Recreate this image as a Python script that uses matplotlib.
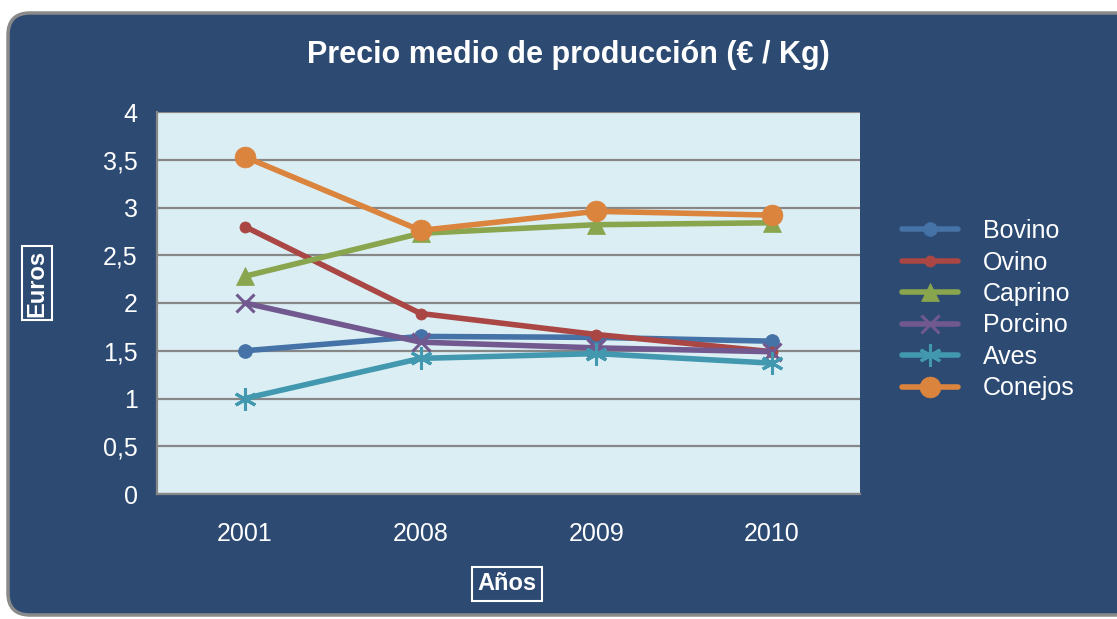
import matplotlib
matplotlib.use("Agg")
import matplotlib.pyplot as plt
from matplotlib.patches import FancyBboxPatch

years = ["2001", "2008", "2009", "2010"]
series_names = ["Bovino", "Ovino", "Caprino", "Porcino", "Aves", "Conejos"]
bovino = [1.50, 1.65, 1.64, 1.60]
ovino = [2.80, 1.89, 1.67, 1.49]
caprino = [2.28, 2.73, 2.82, 2.84]
porcino = [2.00, 1.59, 1.53, 1.49]
aves = [1.00, 1.42, 1.47, 1.37]
conejos = [3.53, 2.76, 2.96, 2.92]
yticks = [0, 0.5, 1, 1.5, 2, 2.5, 3, 3.5, 4]
ytick_labels = ["0", "0,5", "1", "1,5", "2", "2,5", "3", "3,5", "4"]

values = [bovino, ovino, caprino, porcino, aves, conejos]
colors = ["#4572a7", "#aa4643", "#89a54e", "#71588f", "#4198af", "#db843d"]
markers = ["o", "o", "^", "x", (6, 2, 0), "o"]
msizes = [10, 8, 13, 13, 16, 15]

plt.rcParams['font.family'] = ['Liberation Sans', 'DejaVu Sans']

fig = plt.figure(figsize=(11.17, 6.19), dpi=100)
fig.patch.set_facecolor("white")
bg = FancyBboxPatch((0.08, 0.04), 11.4, 6.02, boxstyle="round,pad=0,rounding_size=0.22",
                    transform=fig.dpi_scale_trans, facecolor="#2c4a72",
                    edgecolor="#8a8a8a", linewidth=2.5, zorder=-10)
fig.patches.append(bg)

ax = fig.add_axes([157/1117, 1-494/619, (860-157)/1117, (494-112)/619])
ax.set_facecolor("#dbeef4")
x = list(range(len(years)))
for name, vals, c, m, ms in zip(series_names, values, colors, markers, msizes):
    ax.plot(x, vals, color=c, linewidth=4, marker=m, markersize=ms,
            markeredgewidth=2.2 if m in ("x", (6, 2, 0)) else 0.5,
            markeredgecolor=c, markerfacecolor=c, label=name, solid_capstyle="round")

ax.set_xlim(-0.5, 3.5)
ax.set_ylim(0, 4)
ax.set_yticks(yticks)
ax.set_yticklabels(ytick_labels)
ax.set_xticks(x)
ax.set_xticklabels(years)
ax.grid(axis="y", color="#878787", linewidth=1.6)
ax.set_axisbelow(True)
for s in ["top", "right"]:
    ax.spines[s].set_visible(False)
for s in ["left", "bottom"]:
    ax.spines[s].set_color("#878787")
    ax.spines[s].set_linewidth(1.6)
ax.tick_params(axis="both", length=0, colors="white", labelsize=18)
ax.tick_params(axis="y", pad=14)
ax.tick_params(axis="x", pad=20)

fig.text(568/1117, 1-55/619, "Precio medio de producción (€ / Kg)", color="white",
         fontsize=22, fontweight="bold", ha="center", va="center")
fig.text(37/1117, 1-283/619, "Euros", color="white", fontsize=17, fontweight="bold",
         rotation=90, ha="center", va="center",
         bbox=dict(facecolor="none", edgecolor="white", linewidth=1.5, boxstyle="square,pad=0.15"))
fig.text(507/1117, 1-584/619, "Años", color="white", fontsize=17, fontweight="bold",
         ha="center", va="center",
         bbox=dict(facecolor="none", edgecolor="white", linewidth=1.5, boxstyle="square,pad=0.25"))

leg = fig.legend(loc="upper left", bbox_to_anchor=(902/1117, 1-219/619), frameon=False,
                 fontsize=18, handlelength=2.24, handletextpad=1.0, labelspacing=0.3,
                 borderpad=0, borderaxespad=0)
for t in leg.get_texts():
    t.set_color("white")

fig.savefig("out.png", dpi=100, facecolor=fig.get_facecolor())
